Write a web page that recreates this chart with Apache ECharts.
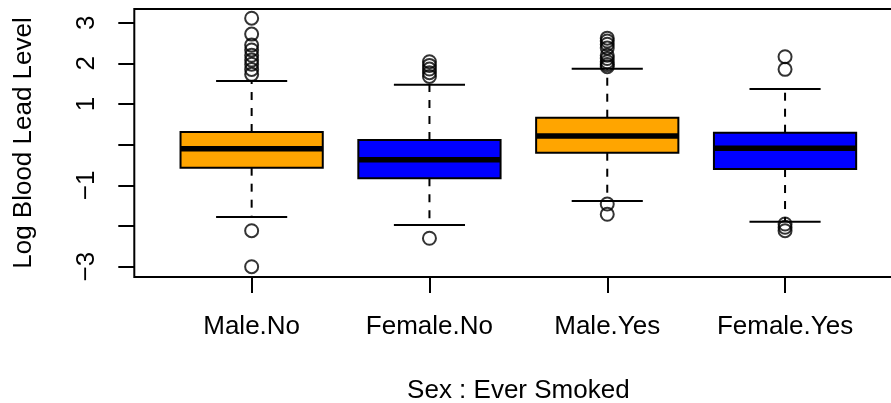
<!DOCTYPE html>
<html>
<head>
<meta charset="utf-8">
<script src="https://cdn.jsdelivr.net/npm/echarts@6/dist/echarts.min.js"></script>
<style>
  html, body { margin: 0; padding: 0; background: #fff; }
  #chart { width: 891px; height: 403px; }
</style>
</head>
<body>
<div id="chart"></div>
<script>
// Groups on the x axis (sex : ever smoked)
const categories = ['Male.No', 'Female.No', 'Male.Yes', 'Female.Yes'];

// Five-number summaries of log blood lead level per group
const whiskerLow  = [-1.778, -1.974, -1.384, -1.893];
const quartile1   = [-0.565, -0.826, -0.197, -0.598];
const medians     = [-0.098, -0.369,  0.214, -0.089];
const quartile3   = [ 0.312,  0.116,  0.664,  0.295];
const whiskerHigh = [ 1.566,  1.475,  1.869,  1.370];

// Points beyond the whiskers
const outliersMaleNo     = [3.11, 2.72, 2.45, 2.33, 2.20, 2.08, 1.98, 1.85, 1.73, -2.115, -3.00];
const outliersFemaleNo   = [2.04, 1.95, 1.86, 1.77, 1.68, -2.30];
const outliersMaleYes    = [2.62, 2.55, 2.47, 2.38, 2.20, 2.12, 2.04, 1.97, 1.92, -1.458, -1.711];
const outliersFemaleYes  = [2.164, 1.853, -1.95, -2.03, -2.115];

// Axis ticks and labels
const yTicks  = [-3, -2, -1, 0, 1, 2, 3];
const yLabels = [3, 2, 1, -1, -3];
const xTicks  = [1, 2, 3, 4];

const fillColors = ['#FFA500', '#0000FF', '#FFA500', '#0000FF'];
const FONT = '"Liberation Sans", Arial, Helvetica, sans-serif';

const boxData = categories.map((c, i) =>
  [i + 1, whiskerLow[i], quartile1[i], medians[i], quartile3[i], whiskerHigh[i]]);

const outlierData = [];
[outliersMaleNo, outliersFemaleNo, outliersMaleYes, outliersFemaleYes].forEach((arr, i) => {
  arr.forEach(v => outlierData.push([i + 1, v]));
});

function renderBox(params, api) {
  const x = api.value(0);
  const lo = api.coord([x, api.value(1)]);
  const q1 = api.coord([x, api.value(2)]);
  const md = api.coord([x, api.value(3)]);
  const q3 = api.coord([x, api.value(4)]);
  const hi = api.coord([x, api.value(5)]);
  const unit = api.size([1, 0])[0];
  const bw = unit * 0.8;
  const cw = unit * 0.4;
  const cx = lo[0];
  const lineStyle = { stroke: '#000', lineWidth: 2, fill: null };
  const dashStyle = { stroke: '#000', lineWidth: 2, fill: null, lineDash: [8, 8] };
  return {
    type: 'group',
    children: [
      { type: 'line', shape: { x1: cx, y1: q3[1], x2: cx, y2: hi[1] }, style: dashStyle },
      { type: 'line', shape: { x1: cx, y1: q1[1], x2: cx, y2: lo[1] }, style: dashStyle },
      { type: 'line', shape: { x1: cx - cw / 2, y1: hi[1], x2: cx + cw / 2, y2: hi[1] }, style: lineStyle },
      { type: 'line', shape: { x1: cx - cw / 2, y1: lo[1], x2: cx + cw / 2, y2: lo[1] }, style: lineStyle },
      { type: 'rect', shape: { x: cx - bw / 2, y: q3[1], width: bw, height: q1[1] - q3[1] },
        style: { fill: fillColors[params.dataIndex], stroke: '#000', lineWidth: 2 } },
      { type: 'line', shape: { x1: cx - bw / 2, y1: md[1], x2: cx + bw / 2, y2: md[1] },
        style: { stroke: '#000', lineWidth: 5.5 } }
    ]
  };
}

const chart = echarts.init(document.getElementById('chart'), null, { renderer: 'canvas' });
chart.setOption({
  backgroundColor: '#fff',
  animation: false,
  textStyle: { fontFamily: FONT },
  grid: {
    left: 134.3, right: -11.4, top: 9, bottom: 126,
    outerBoundsMode: 'none',
    containLabel: false,
    show: true, borderColor: '#000', borderWidth: 2, backgroundColor: 'transparent'
  },
  xAxis: {
    type: 'value', min: 0.34, max: 4.66,
    axisLine: { show: false, onZero: false },
    splitLine: { show: false },
    axisTick: { show: true, customValues: xTicks, length: 16, lineStyle: { color: '#000', width: 2 } },
    axisLabel: {
      customValues: xTicks, color: '#000', fontSize: 26, fontFamily: FONT, margin: 37,
      formatter: v => categories[Math.round(v) - 1] || ''
    },
    name: 'Sex : Ever Smoked', nameLocation: 'middle', nameGap: 101,
    nameTextStyle: { color: '#000', fontSize: 26, fontFamily: FONT }
  },
  yAxis: {
    type: 'value', min: -3.253, max: 3.337,
    axisLine: { show: false, onZero: false },
    splitLine: { show: false },
    axisTick: { show: true, customValues: yTicks, length: 16, lineStyle: { color: '#000', width: 2 } },
    axisLabel: {
      customValues: yLabels, rotate: 90, color: '#000', fontSize: 26, fontFamily: FONT, margin: 34,
      formatter: v => (v < 0 ? '\u2212' + (-v) : String(v))
    },
    name: 'Log Blood Lead Level', nameLocation: 'middle', nameGap: 97, nameRotate: 90,
    nameTextStyle: { color: '#000', fontSize: 26, fontFamily: FONT }
  },
  series: [
    {
      type: 'custom',
      renderItem: renderBox,
      data: boxData,
      encode: { x: 0, y: [1, 2, 3, 4, 5] },
      z: 2
    },
    {
      type: 'scatter',
      data: outlierData,
      symbol: 'circle',
      symbolSize: 13,
      itemStyle: { color: 'transparent', borderColor: '#000', borderWidth: 2 },
      z: 3
    }
  ]
});
</script>
</body>
</html>
